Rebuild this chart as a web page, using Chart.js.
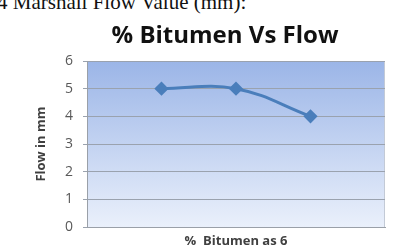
<!DOCTYPE html>
<html>
<head>
<meta charset="utf-8">
<script src="https://cdn.jsdelivr.net/npm/chart.js@4"></script>
<style>
  html, body { margin: 0; padding: 0; background: #fff; overflow: hidden; }
  #wrap { position: relative; width: 393px; height: 250px; }
  #caption {
    position: absolute; left: -3px; top: -10px;
    font-family: "Liberation Serif", serif; font-size: 21px; color: #111;
    white-space: nowrap;
  }
  canvas { position: absolute; left: 0; top: 0; }
</style>
</head>
<body>
<div id="wrap">
  <div id="caption">4 Marshall Flow Value (mm):</div>
  <canvas id="c" width="393" height="250"></canvas>
</div>
<script>
// bitumen content positions (category slots) and flow values
const bitumenSlots = [1, 2, 3];
const flowValues   = [5, 5, 4];
const yTicks       = [0, 1, 2, 3, 4, 5, 6];

// paint the plot area with Excel-like blue gradient
const plotBackground = {
  id: "plotBackground",
  afterLayout(chart) {
    // nudge the title so it sits over the plot like the original
    if (chart.titleBlock) {
      chart.titleBlock.left = 57;
      chart.titleBlock.right = 393;
    }
  },
  beforeDraw(chart) {
    const { ctx, chartArea: a } = chart;
    const g = ctx.createLinearGradient(0, a.top, 0, a.bottom);
    g.addColorStop(0, "#9bb5e7");
    g.addColorStop(1, "#eaf0fb");
    ctx.save();
    ctx.fillStyle = g;
    ctx.fillRect(a.left, a.top, a.right - a.left, a.bottom - a.top);
    ctx.strokeStyle = "#c3cad6";
    ctx.lineWidth = 1;
    ctx.strokeRect(a.left + 0.5, a.top + 0.5, a.right - a.left - 1, a.bottom - a.top);
    ctx.restore();
  }
};

new Chart(document.getElementById("c").getContext("2d"), {
  type: "line",
  data: {
    datasets: [{
      data: bitumenSlots.map((x, i) => ({ x, y: flowValues[i] })),
      borderColor: "#4a7ebb",
      backgroundColor: "#4a7ebb",
      borderWidth: 3,
      tension: 0.4,
      pointStyle: "rectRot",
      pointRadius: 5,
      pointHoverRadius: 5
    }]
  },
  options: {
    responsive: false,
    animation: false,
    layout: { padding: { left: 0, right: 8, top: 0, bottom: 0 } },
    plugins: {
      legend: { display: false },
      tooltip: { enabled: false },
      title: {
        display: true,
        text: "% Bitumen Vs Flow",
        color: "#111",
        font: { family: "Open Sans", size: 24, weight: "bold" },
        padding: { top: 22, bottom: 10.2 }
      }
    },
    scales: {
      x: {
        type: "linear",
        min: 0,
        max: 4,
        ticks: { display: false },
        grid: { display: false },
        border: { display: true, color: "#9aa0a8" },
        title: {
          display: true,
          text: "%  Bitumen as 6",
          color: "#404040",
          font: { family: "Open Sans", size: 13, weight: "bold" },
          padding: { top: 0, bottom: 1 }
        },
        afterFit(scale) { scale.height = 23; }
      },
      y: {
        min: 0,
        max: 6,
        afterBuildTicks(scale) { scale.ticks = yTicks.map(v => ({ value: v })); },
        ticks: {
          color: "#595959",
          font: { family: "Open Sans", size: 14 },
          padding: 10
        },
        grid: { color: "#9aa2ae", tickLength: 4, lineWidth: 1 },
        border: { display: true, color: "#9aa0a8" },
        title: {
          display: true,
          text: "Flow in mm",
          color: "#404040",
          font: { family: "Open Sans", size: 13, weight: "bold" },
          padding: { top: 33, bottom: 0 }
        },
        afterFit(scale) { scale.width = 87; }
      }
    }
  },
  plugins: [plotBackground]
});
</script>
</body>
</html>
